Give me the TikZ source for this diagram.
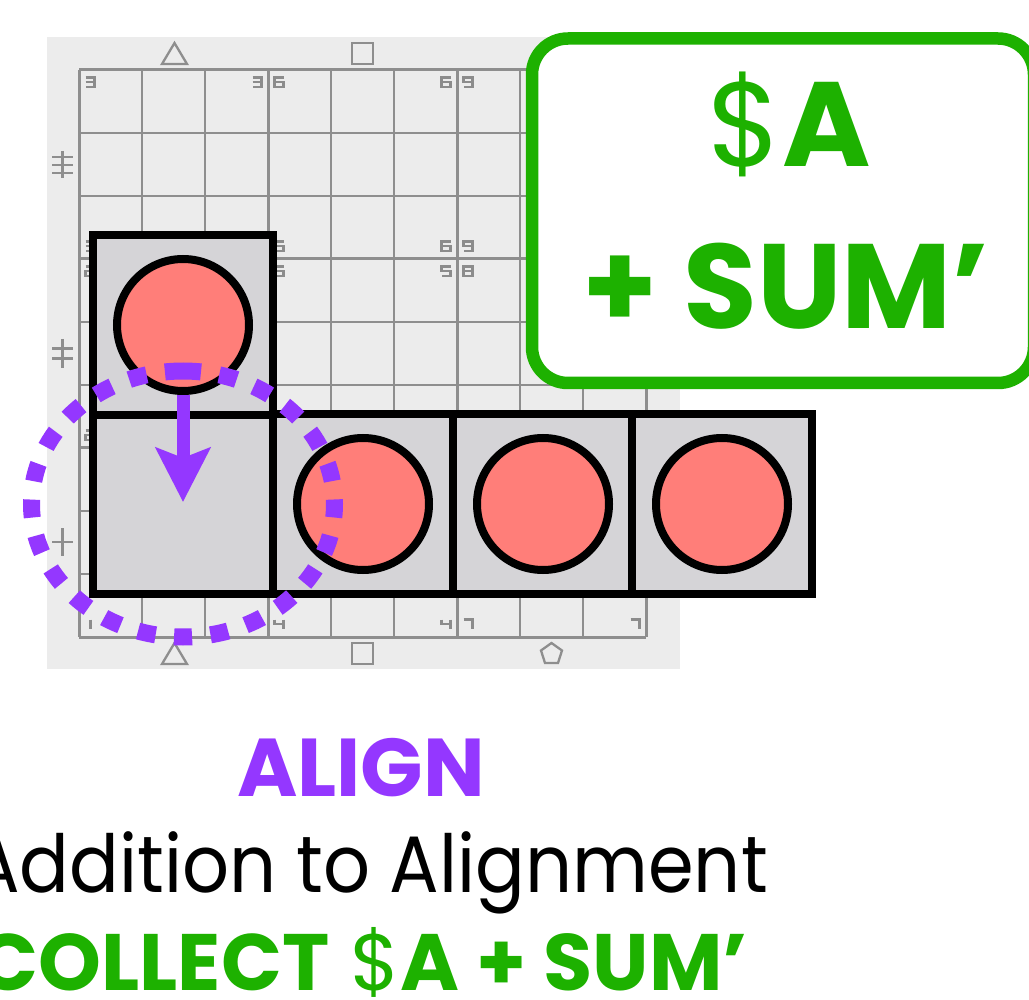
\documentclass[tikz,border=0pt]{standalone}
\usepackage{fontspec}
\setmainfont{Poppins}
\usetikzlibrary{arrows.meta}
\definecolor{grape}{HTML}{9437FF}
\definecolor{kgreen}{HTML}{1DB100}
\definecolor{salmon}{HTML}{FF7E79}
\definecolor{boxgray}{HTML}{D5D4D7}
\definecolor{panelgray}{HTML}{ECECEC}
\definecolor{gridc}{HTML}{8E8E8E}
\definecolor{labc}{HTML}{8C8C8C}
\newcommand\segdig[3]{%
  \begin{scope}[shift={(#2,#3)}]
  \ifcase#1\relax
  \or \draw[seg] (5,0)--(5,9.5);
  \or \draw[seg] (0,0)--(9,0)--(9,4.75)--(0,4.75)--(0,9.5)--(9,9.5);
  \or \draw[seg] (0,0)--(9,0)--(9,9.5)--(0,9.5) (0,4.75)--(9,4.75);
  \or \draw[seg] (0,0)--(0,4.75)--(9,4.75) (9,0)--(9,9.5);
  \or \draw[seg] (9,0)--(0,0)--(0,4.75)--(9,4.75)--(9,9.5)--(0,9.5);
  \or \draw[seg] (9,0)--(0,0)--(0,9.5)--(9,9.5)--(9,4.75)--(0,4.75);
  \or \draw[seg] (0,0)--(9,0)--(9,9.5);
  \or \draw[seg] (0,0) rectangle (9,9.5) (0,4.75)--(9,4.75);
  \or \draw[seg] (9,4.75)--(0,4.75)--(0,0)--(9,0)--(9,9.5)--(0,9.5);
  \fi
  \end{scope}}
\tikzset{
  seg/.style={draw=labc, line width=2.4pt, line cap=butt, line join=miter},
  thingrid/.style={draw=gridc, line width=1.5pt},
  thickgrid/.style={draw=gridc, line width=3pt},
  symb/.style={draw=gridc, line width=2.3pt, line join=miter},
  cellbox/.style={rectangle, draw=black, line width=8pt, fill=boxgray, minimum size=180pt, inner sep=0pt},
  ball/.style={circle, draw=black, line width=8pt, fill=salmon, minimum size=132pt, inner sep=0pt},
  movearrow/.style={draw=grape, line width=13pt, -{Stealth[length=54pt, width=54pt, inset=10pt]}},
  seldash/.style={draw=grape, line width=17pt, dash pattern=on 18pt off 18.53pt},
  sumbox/.style={rectangle, draw=kgreen, line width=12.5pt, fill=white, rounded corners=36pt, minimum width=502pt, minimum height=344.5pt, inner sep=0pt},
  bigtext/.style={inner sep=0pt, text=kgreen, font=\fontsize{120}{130}\selectfont},
  captext/.style={inner sep=0pt, font=\fontsize{80}{90}\selectfont}
}
\begin{document}
\begin{tikzpicture}[x=1pt, y=-1pt]
\useasboundingbox (0,0) rectangle (1029,1000);
\clip (0,0) rectangle (1029,1000);
% panel
\fill[panelgray] (47,37) rectangle (680,669);
% grid
\foreach \i in {1,2,4,5,7,8} {
  \draw[thingrid] (79+63*\i,70) -- (79+63*\i,637);
  \draw[thingrid] (79,70+63*\i) -- (646,70+63*\i);
}
\foreach \i in {0,3,6,9} {
  \draw[thickgrid] (79+63*\i,70) -- (79+63*\i,637);
  \draw[thickgrid] (79,70+63*\i) -- (646,70+63*\i);
}
% block corner digits
\foreach \c/\xo in {0/79,1/268,2/457} {
  \foreach \r/\yo in {0/70,1/259,2/448} {
    \pgfmathtruncatemacro\dg{3*\c+3-\r}
    \segdig{\dg}{\xo+6.5}{\yo+7.5}
    \segdig{\dg}{\xo+173.5}{\yo+7.5}
    \segdig{\dg}{\xo+6.5}{\yo+171.5}
    \segdig{\dg}{\xo+173.5}{\yo+171.5}
  }
}
% column symbols
\draw[symb] (162,64) -- (187,64) -- (174.5,43) -- cycle;
\draw[symb] (352,43) rectangle (373,64);
\draw[symb] (162,664) -- (187,664) -- (174.5,643) -- cycle;
\draw[symb] (352,643) rectangle (373,664);
\draw[symb] (551.5,643) -- (562,650.5) -- (558,663) -- (545,663) -- (541,650.5) -- cycle;
% row symbols
\draw[symb] (62.5,151) -- (62.5,178) (52,157) -- (73,157) (52,165) -- (73,165) (52,173) -- (73,173);
\draw[symb] (62.5,339) -- (62.5,368) (52,348.5) -- (73,348.5) (52,358.5) -- (73,358.5);
\draw[symb] (62.5,528) -- (62.5,556) (52,542) -- (73,542);
% boxes
\node[cellbox] (b1) at (183,504) {};
\node[cellbox] (b2) at (363,504) {};
\node[cellbox] (b3) at (543,504) {};
\node[cellbox] (b4) at (722,504) {};
\node[cellbox] (b0) at (183,325) {};
% balls
\node[ball] (c0) at (183,325) {};
\node[ball] (c2) at (363,504) {};
\node[ball] (c3) at (543,504) {};
\node[ball] (c4) at (722,504) {};
% move arrow
\coordinate (tip) at (183,502);
\draw[movearrow] (c0.south) -- (tip);
% dotted selection
\draw[seldash] (183,371) arc[start angle=-90, end angle=270, x radius=151.5, y radius=133];
% sum box
\node[sumbox] (sum) at (783,210.75) {};
\node[bigtext, anchor=base] (l1) at (789,167) {\$\textbf{A}};
\node[bigtext, anchor=base] (l2) at (786,329) {\textbf{+ SUM’}};
% captions
\node[captext, anchor=base, text=grape] (t1) at (361,796) {\fontsize{82}{90}\selectfont\textbf{ALIGN}};
\node[captext, anchor=base east, text=black] (t2) at (768,892) {\scalebox{0.92}[1]{Addition to Alignment}};
\node[captext, anchor=base east, text=kgreen] (t3) at (748,990) {\textbf{COLLECT} \$\textbf{A + SUM’}};
\end{tikzpicture}
\end{document}
